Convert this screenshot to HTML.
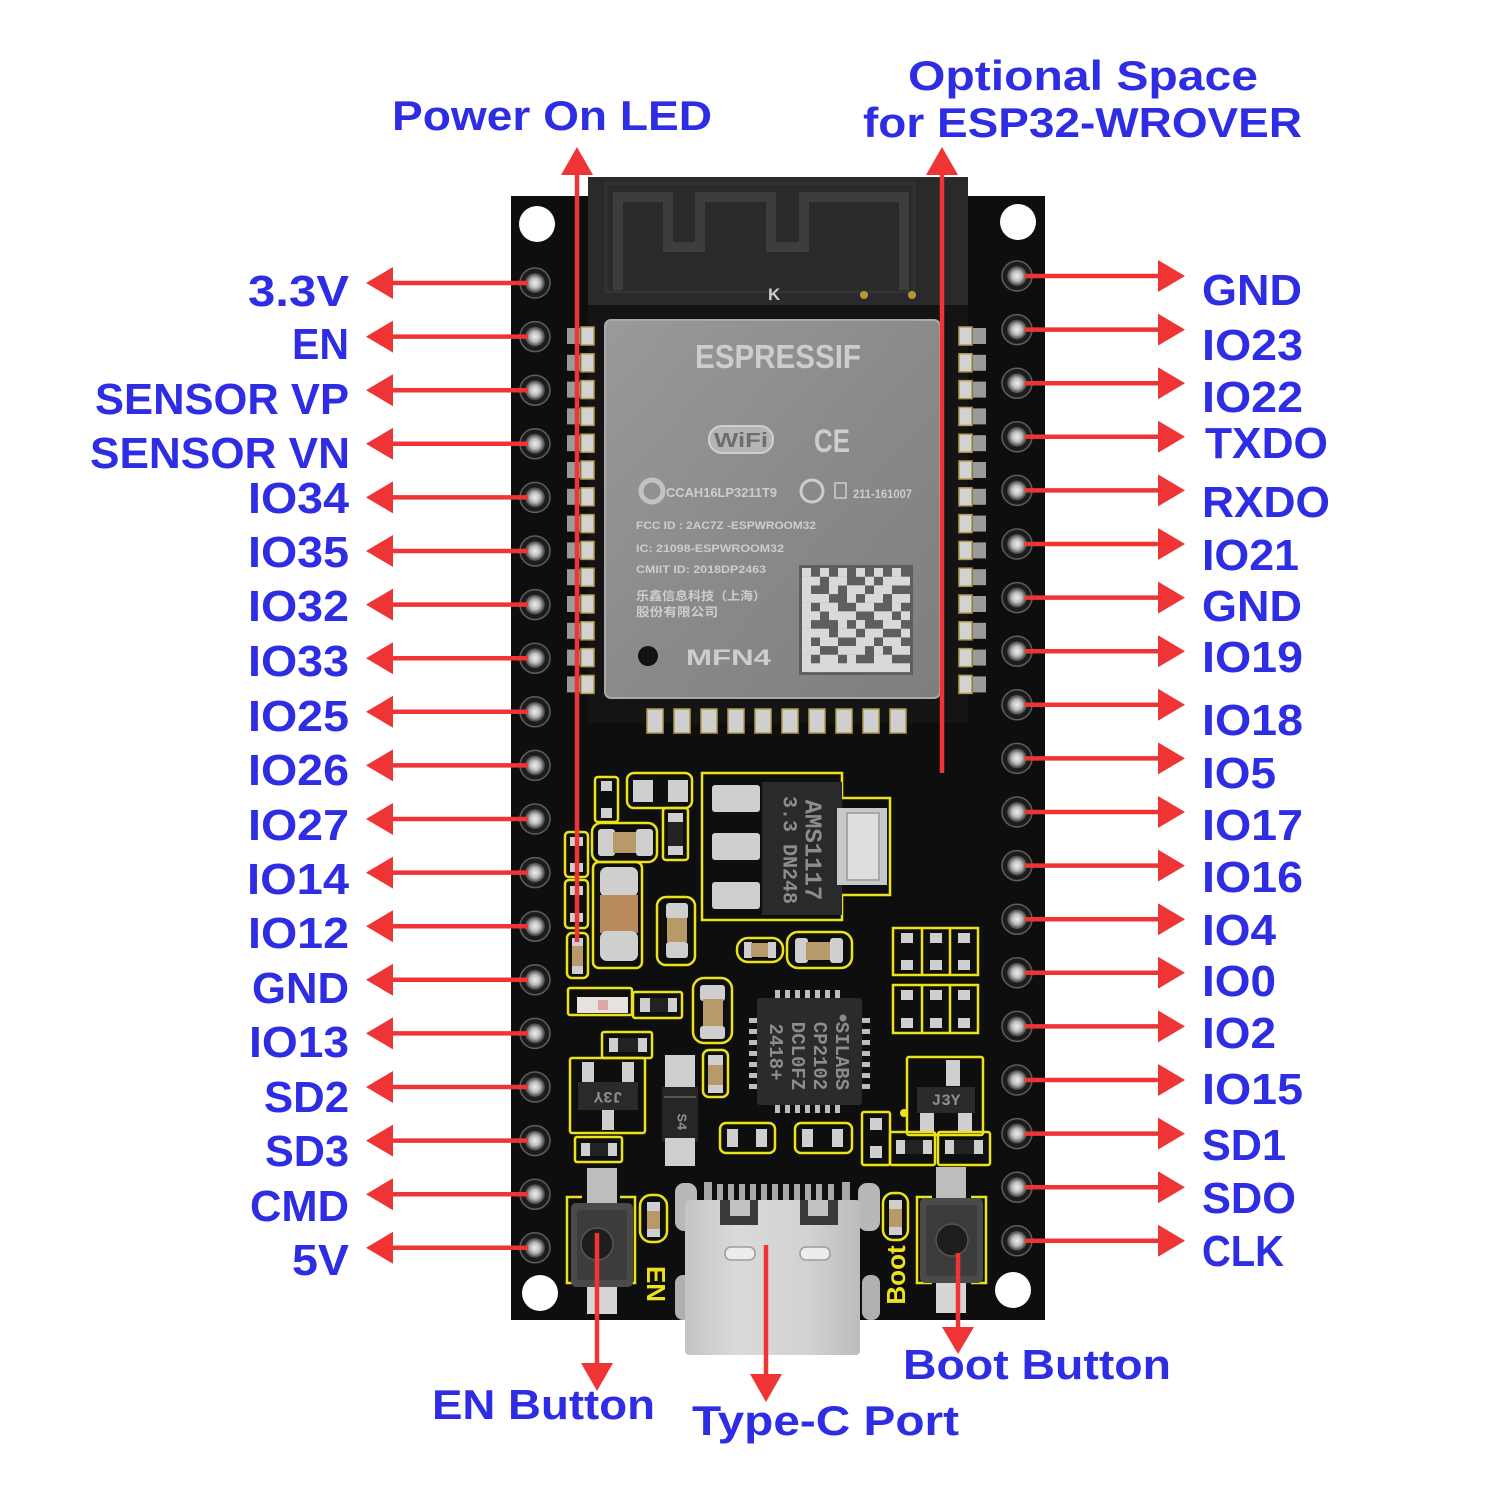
<!DOCTYPE html>
<html><head><meta charset="utf-8"><style>
html,body{margin:0;padding:0;background:#fff;}
svg{display:block;}
.lb{font-family:"Liberation Sans","Noto Sans CJK SC",sans-serif;font-weight:bold;font-size:44px;fill:#2e2de3;}
.tl{font-family:"Liberation Sans",sans-serif;font-weight:bold;font-size:42px;fill:#2e2de3;}
.sh{font-family:"Liberation Sans","Noto Sans CJK SC",sans-serif;fill:#cdcdcd;font-weight:bold;}
.ys{fill:none;stroke:#ece21c;stroke-width:2.5;}
.sv{fill:#cfcfcf;}
.tan{fill:#b89a6a;}
.chipt{font-family:"Liberation Mono",monospace;fill:#8d8d8d;font-weight:bold;}
</style></head><body>
<svg width="1500" height="1500" viewBox="0 0 1500 1500" xmlns="http://www.w3.org/2000/svg">
<defs>
<linearGradient id="shg" x1="0" y1="0" x2="1" y2="1">
<stop offset="0" stop-color="#9a9a9a"/><stop offset="0.5" stop-color="#8a8a8a"/><stop offset="1" stop-color="#7e7e7e"/>
</linearGradient>
<radialGradient id="pin" cx="0.5" cy="0.5" r="0.5">
<stop offset="0" stop-color="#f0f0f0"/><stop offset="0.5" stop-color="#bdbdbd"/><stop offset="1" stop-color="#3a3a3a"/>
</radialGradient>
<linearGradient id="usb" x1="0" y1="0" x2="1" y2="0">
<stop offset="0" stop-color="#c4c4c4"/><stop offset="0.3" stop-color="#dadada"/><stop offset="0.7" stop-color="#d2d2d2"/><stop offset="1" stop-color="#bcbcbc"/>
</linearGradient>
</defs>
<rect width="1500" height="1500" fill="#fff"/>

<!-- board -->
<rect x="511" y="196" width="534" height="1124" fill="#0e0e0e"/>
<circle cx="537" cy="224" r="18" fill="#fff"/>
<circle cx="1018" cy="222" r="18" fill="#fff"/>
<circle cx="540" cy="1293" r="18" fill="#fff"/>
<circle cx="1013" cy="1290" r="18" fill="#fff"/>

<!-- module -->
<rect x="588" y="177" width="380" height="546" fill="#141414"/>
<rect x="588" y="177" width="380" height="128" fill="#2a2a2a"/>
<rect x="606" y="184" width="308" height="108" fill="none" stroke="#333" stroke-width="3"/>
<path d="M618,290 V197 H668 V247 H700 V197 H771 V247 H804 V197 H904 V290" fill="none" stroke="#3d3d3d" stroke-width="10"/>
<text x="768" y="300" font-family="Liberation Sans" font-weight="bold" font-size="17" fill="#cfcfcf">K</text>
<circle cx="864" cy="295" r="4" fill="#b8973a"/>
<circle cx="912" cy="295" r="4" fill="#b8973a"/>

<!-- module castellation pads -->
<g>
<g id="lp">
<rect x="567" y="328" width="13" height="16" fill="#9a9a9a"/><rect x="581" y="327" width="13" height="18" fill="#d2d2d2" stroke="#b59a4a" stroke-width="1.5"/>
</g>
<use href="#lp" y="26.8"/><use href="#lp" y="53.6"/><use href="#lp" y="80.4"/><use href="#lp" y="107.2"/><use href="#lp" y="134"/><use href="#lp" y="160.8"/><use href="#lp" y="187.6"/><use href="#lp" y="214.4"/><use href="#lp" y="241.2"/><use href="#lp" y="268"/><use href="#lp" y="294.8"/><use href="#lp" y="321.6"/><use href="#lp" y="348.4"/>
<g id="rp">
<rect x="959" y="327" width="13" height="18" fill="#d2d2d2" stroke="#b59a4a" stroke-width="1.5"/><rect x="973" y="328" width="13" height="16" fill="#9a9a9a"/>
</g>
<use href="#rp" y="26.8"/><use href="#rp" y="53.6"/><use href="#rp" y="80.4"/><use href="#rp" y="107.2"/><use href="#rp" y="134"/><use href="#rp" y="160.8"/><use href="#rp" y="187.6"/><use href="#rp" y="214.4"/><use href="#rp" y="241.2"/><use href="#rp" y="268"/><use href="#rp" y="294.8"/><use href="#rp" y="321.6"/><use href="#rp" y="348.4"/>
<g id="bp"><rect x="647" y="709" width="16" height="24" fill="#cfcfcf" stroke="#b59a4a" stroke-width="1.5"/></g>
<use href="#bp" x="27"/><use href="#bp" x="54"/><use href="#bp" x="81"/><use href="#bp" x="108"/><use href="#bp" x="135"/><use href="#bp" x="162"/><use href="#bp" x="189"/><use href="#bp" x="216"/><use href="#bp" x="243"/>
</g>

<!-- shield -->
<rect x="605" y="320" width="335" height="378" rx="6" fill="url(#shg)" stroke="#a8a8a8" stroke-width="2"/>
<text class="sh" x="695" y="368" font-size="33" textLength="166" lengthAdjust="spacingAndGlyphs">ESPRESSIF</text>
<rect x="709" y="426" width="64" height="27" rx="13" fill="#b4b4b4" stroke="#cfcfcf" stroke-width="2"/>
<text x="714" y="447" font-family="Liberation Sans" font-weight="bold" font-size="20" fill="#6e6e6e" textLength="54" lengthAdjust="spacingAndGlyphs">WiFi</text>
<text class="sh" x="814" y="452" font-size="32" font-weight="normal" textLength="36" lengthAdjust="spacingAndGlyphs">CE</text>
<circle cx="652" cy="491" r="11" fill="none" stroke="#c2c2c2" stroke-width="5"/>
<text class="sh" x="666" y="497" font-size="13" textLength="111" lengthAdjust="spacingAndGlyphs">CCAH16LP3211T9</text>
<circle cx="812" cy="491" r="11" fill="none" stroke="#cdcdcd" stroke-width="3"/>
<rect x="835" y="483" width="11" height="15" fill="none" stroke="#cdcdcd" stroke-width="1.5"/>
<text class="sh" x="853" y="498" font-size="12" textLength="59" lengthAdjust="spacingAndGlyphs">211-161007</text>
<text class="sh" x="636" y="529" font-size="11" textLength="180" lengthAdjust="spacingAndGlyphs">FCC ID : 2AC7Z -ESPWROOM32</text>
<text class="sh" x="636" y="552" font-size="11" textLength="148" lengthAdjust="spacingAndGlyphs">IC: 21098-ESPWROOM32</text>
<text class="sh" x="636" y="573" font-size="11" textLength="130" lengthAdjust="spacingAndGlyphs">CMIIT ID: 2018DP2463</text>
<text class="sh" x="636" y="600" font-size="12" textLength="130" lengthAdjust="spacingAndGlyphs">乐鑫信息科技（上海）</text>
<text class="sh" x="636" y="616" font-size="12" textLength="82" lengthAdjust="spacingAndGlyphs">股份有限公司</text>
<circle cx="648" cy="656" r="10" fill="#121212"/>
<text class="sh" x="686" y="665" font-size="22" textLength="85" lengthAdjust="spacingAndGlyphs">MFN4</text>
<!-- datamatrix -->
<rect x="799" y="565" width="114" height="110" fill="#5e5e5e"/>
<g fill="#d9d9d9">
<rect x="802" y="568" width="9" height="8.8"/><rect x="820" y="568" width="9" height="8.8"/><rect x="838" y="568" width="9" height="8.8"/><rect x="856" y="568" width="9" height="8.8"/><rect x="874" y="568" width="9" height="8.8"/><rect x="892" y="568" width="9" height="8.8"/>
<rect x="802" y="576.7" width="18" height="8.8"/><rect x="829" y="576.7" width="18" height="8.8"/><rect x="865" y="576.7" width="9" height="8.8"/><rect x="883" y="576.7" width="27" height="8.8"/>
<rect x="802" y="585.3" width="9" height="8.8"/><rect x="829" y="585.3" width="9" height="8.8"/><rect x="847" y="585.3" width="18" height="8.8"/><rect x="874" y="585.3" width="18" height="8.8"/>
<rect x="802" y="594" width="27" height="8.8"/><rect x="847" y="594" width="9" height="8.8"/><rect x="865" y="594" width="18" height="8.8"/><rect x="892" y="594" width="18" height="8.8"/>
<rect x="802" y="602.7" width="9" height="8.8"/><rect x="820" y="602.7" width="18" height="8.8"/><rect x="856" y="602.7" width="18" height="8.8"/><rect x="892" y="602.7" width="9" height="8.8"/>
<rect x="802" y="611.3" width="18" height="8.8"/><rect x="829" y="611.3" width="27" height="8.8"/><rect x="874" y="611.3" width="18" height="8.8"/><rect x="901" y="611.3" width="9" height="8.8"/>
<rect x="802" y="620" width="9" height="8.8"/><rect x="838" y="620" width="9" height="8.8"/><rect x="856" y="620" width="9" height="8.8"/><rect x="883" y="620" width="18" height="8.8"/>
<rect x="802" y="628.7" width="27" height="8.8"/><rect x="838" y="628.7" width="18" height="8.8"/><rect x="865" y="628.7" width="18" height="8.8"/><rect x="901" y="628.7" width="9" height="8.8"/>
<rect x="802" y="637.3" width="9" height="8.8"/><rect x="820" y="637.3" width="18" height="8.8"/><rect x="856" y="637.3" width="18" height="8.8"/><rect x="883" y="637.3" width="18" height="8.8"/>
<rect x="802" y="646" width="18" height="8.8"/><rect x="838" y="646" width="27" height="8.8"/><rect x="874" y="646" width="9" height="8.8"/><rect x="892" y="646" width="18" height="8.8"/>
<rect x="802" y="654.7" width="9" height="8.8"/><rect x="820" y="654.7" width="18" height="8.8"/><rect x="847" y="654.7" width="9" height="8.8"/><rect x="874" y="654.7" width="18" height="8.8"/>
<rect x="802" y="663.3" width="108" height="8.8"/>
</g>

<!-- header pins -->
<g id="pn"><circle cx="535" cy="283" r="15" fill="#1c1c1c" stroke="#5e5e5e" stroke-width="1.5"/><circle cx="535" cy="283" r="10" fill="url(#pin)"/></g>
<use href="#pn" y="53.6"/><use href="#pn" y="107.2"/><use href="#pn" y="160.8"/><use href="#pn" y="214.4"/><use href="#pn" y="268"/><use href="#pn" y="321.6"/><use href="#pn" y="375.2"/><use href="#pn" y="428.8"/><use href="#pn" y="482.4"/><use href="#pn" y="536"/><use href="#pn" y="589.6"/><use href="#pn" y="643.2"/><use href="#pn" y="696.8"/><use href="#pn" y="750.4"/><use href="#pn" y="804"/><use href="#pn" y="857.6"/><use href="#pn" y="911.2"/><use href="#pn" y="964.8"/>
<g id="pr"><circle cx="1017" cy="276" r="15" fill="#1c1c1c" stroke="#5e5e5e" stroke-width="1.5"/><circle cx="1017" cy="276" r="10" fill="url(#pin)"/></g>
<use href="#pr" y="53.6"/><use href="#pr" y="107.2"/><use href="#pr" y="160.8"/><use href="#pr" y="214.4"/><use href="#pr" y="268"/><use href="#pr" y="321.6"/><use href="#pr" y="375.2"/><use href="#pr" y="428.8"/><use href="#pr" y="482.4"/><use href="#pr" y="536"/><use href="#pr" y="589.6"/><use href="#pr" y="643.2"/><use href="#pr" y="696.8"/><use href="#pr" y="750.4"/><use href="#pr" y="804"/><use href="#pr" y="857.6"/><use href="#pr" y="911.2"/><use href="#pr" y="964.8"/>

<!-- lower components -->
<!-- 1 -->
<rect class="ys" x="595" y="777" width="23" height="45" rx="3"/>
<rect class="sv" x="601" y="781" width="11" height="10"/><rect class="sv" x="601" y="808" width="11" height="10"/>
<!-- 2 -->
<rect class="ys" x="627" y="773" width="65" height="35" rx="7"/>
<rect class="sv" x="633" y="780" width="20" height="22"/><rect class="sv" x="668" y="780" width="20" height="22"/>
<!-- 3 -->
<rect class="ys" x="663" y="808" width="25" height="52" rx="3"/>
<rect class="sv" x="668" y="813" width="15" height="9"/><rect x="668" y="822" width="15" height="24" fill="#222"/><rect class="sv" x="668" y="846" width="15" height="9"/>
<!-- 4 -->
<rect class="ys" x="592" y="823" width="65" height="39" rx="9"/>
<rect class="sv" x="598" y="829" width="17" height="27" rx="3"/><rect class="tan" x="613" y="832" width="25" height="21"/><rect class="sv" x="636" y="829" width="17" height="27" rx="3"/>
<!-- 5,6 -->
<rect class="ys" x="565" y="832" width="23" height="45" rx="4"/>
<rect class="sv" x="570" y="837" width="13" height="9"/><rect class="sv" x="570" y="863" width="13" height="9"/>
<rect class="ys" x="565" y="880" width="23" height="48" rx="4"/>
<rect class="sv" x="570" y="886" width="13" height="9"/><rect class="sv" x="570" y="913" width="13" height="9"/>
<!-- 7 LED-ish small -->
<rect class="ys" x="567" y="933" width="21" height="45" rx="5"/>
<rect class="sv" x="572" y="938" width="11" height="8"/><rect class="tan" x="572" y="946" width="11" height="20"/><rect class="sv" x="572" y="966" width="11" height="8"/>
<!-- 8 big cap -->
<rect class="ys" x="593" y="862" width="49" height="106" rx="6"/>
<rect class="sv" x="600" y="867" width="38" height="30" rx="7"/><rect x="600" y="895" width="38" height="38" fill="#b88a5c"/><rect class="sv" x="600" y="931" width="38" height="30" rx="7"/>
<!-- 9 -->
<rect class="ys" x="657" y="897" width="38" height="68" rx="9"/>
<rect class="sv" x="666" y="903" width="22" height="16" rx="3"/><rect class="tan" x="667" y="918" width="20" height="24"/><rect class="sv" x="666" y="942" width="22" height="16" rx="3"/>
<!-- 10 AMS1117 -->
<path class="ys" d="M702,773 H842 V798 H890 V895 H842 V920 H702 Z"/>
<rect x="762" y="782" width="80" height="133" fill="#2a2a2a"/>
<rect class="sv" x="712" y="785" width="48" height="27" rx="3"/><rect class="sv" x="712" y="833" width="48" height="27" rx="3"/><rect class="sv" x="712" y="882" width="48" height="27" rx="3"/>
<rect x="837" y="808" width="50" height="77" fill="#c8c8c8"/><rect x="847" y="813" width="32" height="67" fill="#dedede" stroke="#999" stroke-width="1.5"/>
<text class="chipt" transform="translate(812,850) rotate(90)" text-anchor="middle" dominant-baseline="middle" font-size="24" font-family="Liberation Sans" font-weight="normal">AMS1117</text>
<text class="chipt" transform="translate(789,850) rotate(90)" text-anchor="middle" dominant-baseline="middle" font-size="20" font-family="Liberation Sans" font-weight="normal">3.3 DN248</text>
<!-- 11,12 -->
<rect class="ys" x="737" y="938" width="46" height="24" rx="11"/>
<rect class="sv" x="744" y="942" width="8" height="16"/><rect class="tan" x="751" y="943" width="18" height="14"/><rect class="sv" x="768" y="942" width="8" height="16"/>
<rect class="ys" x="787" y="932" width="65" height="36" rx="11"/>
<rect class="sv" x="795" y="938" width="13" height="25" rx="3"/><rect class="tan" x="806" y="942" width="26" height="18"/><rect class="sv" x="830" y="938" width="13" height="25" rx="3"/>
<!-- 13 resistor arrays -->
<rect class="ys" x="893" y="928" width="85" height="47"/><line class="ys" x1="922" y1="928" x2="922" y2="975"/><line class="ys" x1="950" y1="928" x2="950" y2="975"/>
<rect class="ys" x="893" y="985" width="85" height="48"/><line class="ys" x1="922" y1="985" x2="922" y2="1033"/><line class="ys" x1="950" y1="985" x2="950" y2="1033"/>
<g fill="#cfcfcf">
<rect x="901" y="933" width="12" height="10"/><rect x="901" y="960" width="12" height="10"/><rect x="930" y="933" width="12" height="10"/><rect x="930" y="960" width="12" height="10"/><rect x="958" y="933" width="12" height="10"/><rect x="958" y="960" width="12" height="10"/>
<rect x="901" y="990" width="12" height="10"/><rect x="901" y="1018" width="12" height="10"/><rect x="930" y="990" width="12" height="10"/><rect x="930" y="1018" width="12" height="10"/><rect x="958" y="990" width="12" height="10"/><rect x="958" y="1018" width="12" height="10"/>
</g>
<!-- 14 LED -->
<rect class="ys" x="568" y="988" width="64" height="27" rx="2"/>
<rect x="577" y="997" width="51" height="16" fill="#e6e2de"/><rect x="598" y="1000" width="10" height="10" fill="#dba7a7"/>
<rect class="ys" x="633" y="992" width="49" height="26" rx="2"/>
<rect class="sv" x="640" y="998" width="10" height="14"/><rect x="650" y="998" width="18" height="14" fill="#222"/><rect class="sv" x="668" y="998" width="9" height="14"/>
<!-- 15,16 -->
<rect class="ys" x="693" y="978" width="39" height="65" rx="11"/>
<rect class="sv" x="700" y="985" width="25" height="16" rx="3"/><rect class="tan" x="703" y="999" width="20" height="29"/><rect class="sv" x="700" y="1026" width="25" height="13" rx="3"/>
<rect class="ys" x="703" y="1050" width="25" height="47" rx="6"/>
<rect class="sv" x="708" y="1055" width="15" height="10"/><rect class="tan" x="708" y="1065" width="15" height="20"/><rect class="sv" x="708" y="1085" width="15" height="8"/>
<!-- 17 CP2102 -->
<g fill="#bdbdbd">
<rect x="775" y="990" width="5" height="8"/><rect x="785" y="990" width="5" height="8"/><rect x="795" y="990" width="5" height="8"/><rect x="805" y="990" width="5" height="8"/><rect x="815" y="990" width="5" height="8"/><rect x="825" y="990" width="5" height="8"/><rect x="835" y="990" width="5" height="8"/>
<rect x="775" y="1105" width="5" height="8"/><rect x="785" y="1105" width="5" height="8"/><rect x="795" y="1105" width="5" height="8"/><rect x="805" y="1105" width="5" height="8"/><rect x="815" y="1105" width="5" height="8"/><rect x="825" y="1105" width="5" height="8"/><rect x="835" y="1105" width="5" height="8"/>
<rect x="749" y="1018" width="8" height="5"/><rect x="749" y="1029" width="8" height="5"/><rect x="749" y="1040" width="8" height="5"/><rect x="749" y="1051" width="8" height="5"/><rect x="749" y="1062" width="8" height="5"/><rect x="749" y="1073" width="8" height="5"/><rect x="749" y="1084" width="8" height="5"/>
<rect x="862" y="1018" width="8" height="5"/><rect x="862" y="1029" width="8" height="5"/><rect x="862" y="1040" width="8" height="5"/><rect x="862" y="1051" width="8" height="5"/><rect x="862" y="1062" width="8" height="5"/><rect x="862" y="1073" width="8" height="5"/><rect x="862" y="1084" width="8" height="5"/>
</g>
<rect x="757" y="998" width="105" height="107" rx="3" fill="#2b2b2b"/>
<circle cx="843" cy="1018" r="3.5" fill="#8a8a8a"/>
<g class="chipt" font-size="19" font-family="Liberation Mono">
<text transform="translate(841,1056) rotate(90)" text-anchor="middle" dominant-baseline="middle">SILABS</text>
<text transform="translate(819,1056) rotate(90)" text-anchor="middle" dominant-baseline="middle">CP2102</text>
<text transform="translate(797,1056) rotate(90)" text-anchor="middle" dominant-baseline="middle">DCL0FZ</text>
<text transform="translate(775,1052) rotate(90)" text-anchor="middle" dominant-baseline="middle">2418+</text>
</g>
<!-- 18 left transistor -->
<rect class="ys" x="570" y="1058" width="75" height="75" rx="2"/>
<rect class="ys" x="602" y="1032" width="50" height="26" rx="2"/>
<rect class="sv" x="609" y="1038" width="9" height="14"/><rect x="618" y="1038" width="20" height="14" fill="#222"/><rect class="sv" x="638" y="1038" width="9" height="14"/>
<rect class="sv" x="582" y="1062" width="12" height="20"/><rect class="sv" x="622" y="1062" width="12" height="20"/><rect class="sv" x="602" y="1110" width="12" height="20"/>
<rect x="578" y="1082" width="60" height="28" fill="#2a2a2a"/>
<text class="chipt" transform="translate(608,1096) rotate(180)" text-anchor="middle" dominant-baseline="middle" font-size="16" font-family="Liberation Sans" font-weight="normal">J3Y</text>
<!-- 19 -->
<rect class="ys" x="575" y="1137" width="47" height="25" rx="2"/>
<rect class="sv" x="581" y="1143" width="9" height="13"/><rect x="590" y="1143" width="18" height="13" fill="#222"/><rect class="sv" x="608" y="1143" width="9" height="13"/>
<!-- 20 diode -->
<rect class="sv" x="665" y="1055" width="30" height="34"/><rect x="662" y="1087" width="36" height="55" fill="#262626"/><rect class="sv" x="665" y="1138" width="30" height="28"/>
<line x1="664" y1="1097" x2="696" y2="1097" stroke="#555" stroke-width="2"/>
<text class="chipt" transform="translate(681,1122) rotate(90)" text-anchor="middle" dominant-baseline="middle" font-size="14" font-family="Liberation Sans" font-weight="normal">S4</text>
<!-- 21,22 -->
<rect class="ys" x="720" y="1123" width="55" height="30" rx="6"/>
<rect class="sv" x="727" y="1129" width="11" height="18"/><rect class="sv" x="756" y="1129" width="11" height="18"/>
<rect class="ys" x="795" y="1123" width="57" height="30" rx="6"/>
<rect class="sv" x="802" y="1129" width="11" height="18"/><rect class="sv" x="832" y="1129" width="11" height="18"/>
<!-- 23 right transistor -->
<rect class="ys" x="907" y="1057" width="76" height="78" rx="2"/>
<rect class="sv" x="946" y="1060" width="14" height="26"/><rect class="sv" x="920" y="1112" width="14" height="20"/><rect class="sv" x="958" y="1112" width="14" height="20"/>
<rect x="917" y="1087" width="58" height="26" fill="#2a2a2a"/>
<text class="chipt" x="946" y="1101" text-anchor="middle" dominant-baseline="middle" font-size="16" font-family="Liberation Sans" font-weight="normal">J3Y</text>
<circle cx="904" cy="1113" r="4" fill="#ece21c"/>
<!-- 24 -->
<rect class="ys" x="862" y="1112" width="28" height="53" rx="2"/>
<rect class="sv" x="870" y="1118" width="12" height="12"/><rect class="sv" x="870" y="1146" width="12" height="12"/>
<rect class="ys" x="890" y="1132" width="45" height="33" rx="2"/>
<rect class="sv" x="896" y="1140" width="9" height="14"/><rect x="905" y="1140" width="18" height="14" fill="#222"/><rect class="sv" x="923" y="1140" width="9" height="14"/>
<rect class="ys" x="938" y="1132" width="52" height="33" rx="2"/>
<rect class="sv" x="945" y="1140" width="9" height="14"/><rect x="954" y="1140" width="20" height="14" fill="#222"/><rect class="sv" x="974" y="1140" width="9" height="14"/>

<!-- EN button -->
<path class="ys" d="M582,1197 H567 V1283 H582 M620,1197 H635 V1283 H620"/>
<rect x="587" y="1168" width="30" height="36" fill="#bdbdbd"/>
<rect x="587" y="1284" width="30" height="30" fill="#d6d6d6"/>
<rect x="571" y="1203" width="62" height="84" rx="5" fill="#4a4a4a"/>
<rect x="577" y="1210" width="50" height="70" rx="3" fill="#3c3c3c"/>
<circle cx="597" cy="1244" r="16" fill="#1e1e1e" stroke="#555" stroke-width="1.5"/>
<rect class="ys" x="640" y="1195" width="27" height="47" rx="11"/>
<rect class="sv" x="647" y="1202" width="13" height="9"/><rect class="tan" x="647" y="1211" width="13" height="18"/><rect class="sv" x="647" y="1229" width="13" height="8"/>
<text transform="translate(654,1284) rotate(90)" text-anchor="middle" dominant-baseline="middle" font-family="Liberation Sans" font-weight="bold" font-size="26" fill="#ece21c">EN</text>

<!-- Boot button -->
<path class="ys" d="M932,1197 H917 V1283 H932 M971,1197 H986 V1283 H971"/>
<rect x="936" y="1167" width="30" height="33" fill="#bdbdbd"/>
<rect x="936" y="1280" width="30" height="33" fill="#d6d6d6"/>
<rect x="920" y="1198" width="63" height="85" rx="5" fill="#4a4a4a"/>
<rect x="926" y="1205" width="51" height="71" rx="3" fill="#3c3c3c"/>
<circle cx="952" cy="1240" r="16" fill="#1e1e1e" stroke="#555" stroke-width="1.5"/>
<rect class="ys" x="883" y="1193" width="25" height="47" rx="10"/>
<rect class="sv" x="889" y="1200" width="13" height="9"/><rect class="tan" x="889" y="1209" width="13" height="18"/><rect class="sv" x="889" y="1227" width="13" height="8"/>
<text transform="translate(898,1275) rotate(-90)" text-anchor="middle" dominant-baseline="middle" font-family="Liberation Sans" font-weight="bold" font-size="26" fill="#ece21c">Boot</text>

<!-- USB-C -->
<rect x="675" y="1183" width="22" height="48" rx="9" fill="#b8b8b8"/>
<rect x="858" y="1183" width="22" height="48" rx="9" fill="#b8b8b8"/>
<rect x="675" y="1275" width="18" height="45" rx="8" fill="#b0b0b0"/>
<rect x="862" y="1275" width="18" height="45" rx="8" fill="#b0b0b0"/>
<g fill="#a8a8a8">
<rect x="704" y="1182" width="8" height="20"/><rect x="717" y="1184" width="6" height="18"/><rect x="728" y="1184" width="6" height="18"/><rect x="739" y="1184" width="6" height="18"/><rect x="750" y="1184" width="6" height="18"/><rect x="761" y="1184" width="6" height="18"/><rect x="772" y="1184" width="6" height="18"/><rect x="783" y="1184" width="6" height="18"/><rect x="794" y="1184" width="6" height="18"/><rect x="805" y="1184" width="6" height="18"/><rect x="816" y="1184" width="6" height="18"/><rect x="828" y="1184" width="6" height="18"/><rect x="842" y="1182" width="8" height="20"/>
</g>
<rect x="685" y="1200" width="175" height="155" rx="4" fill="url(#usb)"/>
<rect x="720" y="1200" width="38" height="25" fill="#3a3a3a"/><rect x="800" y="1200" width="38" height="25" fill="#3a3a3a"/>
<rect x="730" y="1200" width="20" height="16" fill="#c2c2c2"/><rect x="808" y="1200" width="20" height="16" fill="#c2c2c2"/>
<rect x="725" y="1247" width="30" height="13" rx="6" fill="#ececec" stroke="#9c9c9c" stroke-width="1.5"/>
<rect x="800" y="1247" width="30" height="13" rx="6" fill="#ececec" stroke="#9c9c9c" stroke-width="1.5"/>

<!-- RED ARROWS -->
<g stroke="#ee3434" stroke-width="4.5" fill="none">
<line x1="390" y1="283" x2="528" y2="283"/><line x1="390" y1="336.6" x2="528" y2="336.6"/><line x1="390" y1="390.2" x2="528" y2="390.2"/><line x1="390" y1="443.8" x2="528" y2="443.8"/><line x1="390" y1="497.4" x2="528" y2="497.4"/><line x1="390" y1="551" x2="528" y2="551"/><line x1="390" y1="604.6" x2="528" y2="604.6"/><line x1="390" y1="658.2" x2="528" y2="658.2"/><line x1="390" y1="711.8" x2="528" y2="711.8"/><line x1="390" y1="765.4" x2="528" y2="765.4"/><line x1="390" y1="819" x2="528" y2="819"/><line x1="390" y1="872.6" x2="528" y2="872.6"/><line x1="390" y1="926.2" x2="528" y2="926.2"/><line x1="390" y1="979.8" x2="528" y2="979.8"/><line x1="390" y1="1033.4" x2="528" y2="1033.4"/><line x1="390" y1="1087" x2="528" y2="1087"/><line x1="390" y1="1140.6" x2="528" y2="1140.6"/><line x1="390" y1="1194.2" x2="528" y2="1194.2"/><line x1="390" y1="1247.8" x2="528" y2="1247.8"/>
<line x1="1025" y1="276" x2="1160" y2="276"/><line x1="1025" y1="329.6" x2="1160" y2="329.6"/><line x1="1025" y1="383.2" x2="1160" y2="383.2"/><line x1="1025" y1="436.8" x2="1160" y2="436.8"/><line x1="1025" y1="490.4" x2="1160" y2="490.4"/><line x1="1025" y1="544" x2="1160" y2="544"/><line x1="1025" y1="597.6" x2="1160" y2="597.6"/><line x1="1025" y1="651.2" x2="1160" y2="651.2"/><line x1="1025" y1="704.8" x2="1160" y2="704.8"/><line x1="1025" y1="758.4" x2="1160" y2="758.4"/><line x1="1025" y1="812" x2="1160" y2="812"/><line x1="1025" y1="865.6" x2="1160" y2="865.6"/><line x1="1025" y1="919.2" x2="1160" y2="919.2"/><line x1="1025" y1="972.8" x2="1160" y2="972.8"/><line x1="1025" y1="1026.4" x2="1160" y2="1026.4"/><line x1="1025" y1="1080" x2="1160" y2="1080"/><line x1="1025" y1="1133.6" x2="1160" y2="1133.6"/><line x1="1025" y1="1187.2" x2="1160" y2="1187.2"/><line x1="1025" y1="1240.8" x2="1160" y2="1240.8"/>
<line x1="577" y1="172" x2="577" y2="942"/>
<line x1="942" y1="172" x2="942" y2="773"/>
<line x1="597" y1="1233" x2="597" y2="1366"/>
<line x1="766" y1="1245" x2="766" y2="1377"/>
<line x1="958" y1="1253" x2="958" y2="1330"/>
</g>
<g fill="#ee3434">
<g id="la"><polygon points="366,283 393,267 393,299"/></g>
<use href="#la" y="53.6"/><use href="#la" y="107.2"/><use href="#la" y="160.8"/><use href="#la" y="214.4"/><use href="#la" y="268"/><use href="#la" y="321.6"/><use href="#la" y="375.2"/><use href="#la" y="428.8"/><use href="#la" y="482.4"/><use href="#la" y="536"/><use href="#la" y="589.6"/><use href="#la" y="643.2"/><use href="#la" y="696.8"/><use href="#la" y="750.4"/><use href="#la" y="804"/><use href="#la" y="857.6"/><use href="#la" y="911.2"/><use href="#la" y="964.8"/>
<g id="ra"><polygon points="1185,276 1158,260 1158,292"/></g>
<use href="#ra" y="53.6"/><use href="#ra" y="107.2"/><use href="#ra" y="160.8"/><use href="#ra" y="214.4"/><use href="#ra" y="268"/><use href="#ra" y="321.6"/><use href="#ra" y="375.2"/><use href="#ra" y="428.8"/><use href="#ra" y="482.4"/><use href="#ra" y="536"/><use href="#ra" y="589.6"/><use href="#ra" y="643.2"/><use href="#ra" y="696.8"/><use href="#ra" y="750.4"/><use href="#ra" y="804"/><use href="#ra" y="857.6"/><use href="#ra" y="911.2"/><use href="#ra" y="964.8"/>
<polygon points="577,147 561,175 593,175"/>
<polygon points="942,147 926,175 958,175"/>
<polygon points="581,1363 613,1363 597,1391"/>
<polygon points="750,1374 782,1374 766,1402"/>
<polygon points="942,1327 974,1327 958,1354"/>
</g>

<!-- LABELS -->
<g class="lb">
<text x="248" y="306" textLength="101" lengthAdjust="spacingAndGlyphs">3.3V</text>
<text x="292" y="359" textLength="57" lengthAdjust="spacingAndGlyphs">EN</text>
<text x="95" y="414" textLength="254" lengthAdjust="spacingAndGlyphs">SENSOR VP</text>
<text x="90" y="468" textLength="260" lengthAdjust="spacingAndGlyphs">SENSOR VN</text>
<text x="248" y="513" textLength="101" lengthAdjust="spacingAndGlyphs">IO34</text>
<text x="248" y="567" textLength="101" lengthAdjust="spacingAndGlyphs">IO35</text>
<text x="248" y="621" textLength="101" lengthAdjust="spacingAndGlyphs">IO32</text>
<text x="248" y="676" textLength="101" lengthAdjust="spacingAndGlyphs">IO33</text>
<text x="248" y="731" textLength="101" lengthAdjust="spacingAndGlyphs">IO25</text>
<text x="248" y="785" textLength="101" lengthAdjust="spacingAndGlyphs">IO26</text>
<text x="248" y="840" textLength="101" lengthAdjust="spacingAndGlyphs">IO27</text>
<text x="247" y="894" textLength="102" lengthAdjust="spacingAndGlyphs">IO14</text>
<text x="248" y="948" textLength="101" lengthAdjust="spacingAndGlyphs">IO12</text>
<text x="252" y="1003" textLength="97" lengthAdjust="spacingAndGlyphs">GND</text>
<text x="249" y="1057" textLength="100" lengthAdjust="spacingAndGlyphs">IO13</text>
<text x="264" y="1112" textLength="85" lengthAdjust="spacingAndGlyphs">SD2</text>
<text x="265" y="1166" textLength="84" lengthAdjust="spacingAndGlyphs">SD3</text>
<text x="250" y="1221" textLength="99" lengthAdjust="spacingAndGlyphs">CMD</text>
<text x="292" y="1275" textLength="57" lengthAdjust="spacingAndGlyphs">5V</text>

<text x="1202" y="305" textLength="100" lengthAdjust="spacingAndGlyphs">GND</text>
<text x="1202" y="360" textLength="101" lengthAdjust="spacingAndGlyphs">IO23</text>
<text x="1202" y="412" textLength="101" lengthAdjust="spacingAndGlyphs">IO22</text>
<text x="1205" y="458" textLength="123" lengthAdjust="spacingAndGlyphs">TXDO</text>
<text x="1202" y="517" textLength="128" lengthAdjust="spacingAndGlyphs">RXDO</text>
<text x="1202" y="570" textLength="97" lengthAdjust="spacingAndGlyphs">IO21</text>
<text x="1202" y="621" textLength="100" lengthAdjust="spacingAndGlyphs">GND</text>
<text x="1202" y="672" textLength="101" lengthAdjust="spacingAndGlyphs">IO19</text>
<text x="1202" y="735" textLength="101" lengthAdjust="spacingAndGlyphs">IO18</text>
<text x="1202" y="788" textLength="74" lengthAdjust="spacingAndGlyphs">IO5</text>
<text x="1202" y="840" textLength="101" lengthAdjust="spacingAndGlyphs">IO17</text>
<text x="1202" y="892" textLength="101" lengthAdjust="spacingAndGlyphs">IO16</text>
<text x="1202" y="945" textLength="74" lengthAdjust="spacingAndGlyphs">IO4</text>
<text x="1202" y="996" textLength="74" lengthAdjust="spacingAndGlyphs">IO0</text>
<text x="1202" y="1048" textLength="74" lengthAdjust="spacingAndGlyphs">IO2</text>
<text x="1202" y="1104" textLength="101" lengthAdjust="spacingAndGlyphs">IO15</text>
<text x="1202" y="1160" textLength="84" lengthAdjust="spacingAndGlyphs">SD1</text>
<text x="1202" y="1213" textLength="94" lengthAdjust="spacingAndGlyphs">SDO</text>
<text x="1202" y="1266" textLength="82" lengthAdjust="spacingAndGlyphs">CLK</text>
</g>
<g class="tl">
<text x="392" y="130" textLength="320" lengthAdjust="spacingAndGlyphs">Power On LED</text>
<text x="908" y="90" textLength="350" lengthAdjust="spacingAndGlyphs">Optional Space</text>
<text x="863" y="137" textLength="439" lengthAdjust="spacingAndGlyphs">for ESP32-WROVER</text>
<text x="432" y="1419" textLength="223" lengthAdjust="spacingAndGlyphs">EN Button</text>
<text x="692" y="1435" textLength="267" lengthAdjust="spacingAndGlyphs">Type-C Port</text>
<text x="903" y="1379" textLength="268" lengthAdjust="spacingAndGlyphs">Boot Button</text>
</g>
</svg>
</body></html>
